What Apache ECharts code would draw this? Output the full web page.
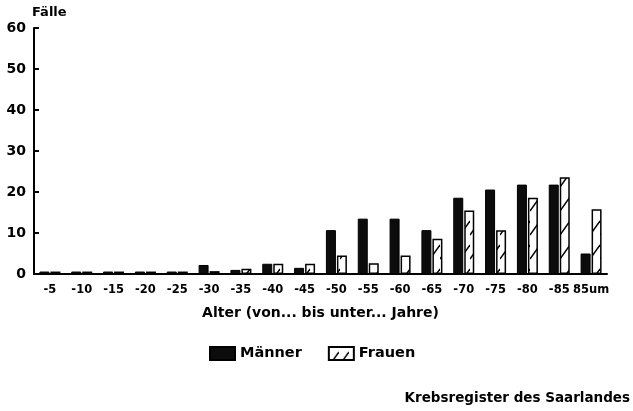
<!DOCTYPE html>
<html>
<head>
<meta charset="utf-8">
<script src="https://cdn.jsdelivr.net/npm/echarts@6/dist/echarts.min.js"></script>
<style>
  html, body { margin: 0; padding: 0; background: #fff; }
  #chart { width: 633px; height: 411px; }
</style>
</head>
<body>
<div id="chart"></div>
<script>
// Altersgruppen (von ... bis unter ... Jahre)
const categories = ['-5', '-10', '-15', '-20', '-25', '-30', '-35', '-40', '-45',
    '-50', '-55', '-60', '-65', '-70', '-75', '-80', '-85', '85um'];
const maenner = [0.6, 0.6, 0.6, 0.6, 0.6, 2.2, 1, 2.5, 1.5,
    10.7, 13.5, 13.5, 10.7, 18.6, 20.6, 21.8, 21.8, 5];
const frauen = [0.6, 0.6, 0.6, 0.6, 0.6, 0.7, 1.3, 2.5, 2.5,
    4.5, 2.6, 4.5, 8.6, 15.5, 10.7, 18.6, 23.6, 15.8];
const yMax = 60;
const yStep = 10;

const FONT = 'DejaVu Sans';

// schraffur fuer Frauen
function hatch() {
    const c = document.createElement('canvas');
    c.width = 10;
    c.height = 24;
    const ctx = c.getContext('2d');
    ctx.fillStyle = '#fff';
    ctx.fillRect(0, 0, 10, 24);
    ctx.strokeStyle = '#000';
    ctx.lineWidth = 1.4;
    ctx.beginPath();
    ctx.moveTo(0, 19);
    ctx.lineTo(10, 5);
    ctx.stroke();
    return c;
}

const chart = echarts.init(document.getElementById('chart'));
chart.setOption({
    animation: false,
    backgroundColor: '#fff',
    textStyle: { fontFamily: FONT, color: '#000', fontWeight: 'bold' },
    grid: { left: 34, right: 26, top: 28, bottom: 137 },
    legend: {
        left: 204,
        top: 341,
        itemWidth: 25,
        itemHeight: 13,
        itemGap: 26,
        textStyle: { fontFamily: FONT, fontSize: 14.5, color: '#000', fontWeight: 'bold' },
        data: [
            { name: 'Männer', icon: 'rect' },
            { name: 'Frauen', icon: 'rect' }
        ]
    },
    xAxis: {
        type: 'category',
        data: categories,
        name: 'Alter (von... bis unter... Jahre)',
        nameLocation: 'middle',
        nameGap: 32,
        nameTextStyle: { fontFamily: FONT, fontSize: 14, fontWeight: 'bold', color: '#000' },
        axisLine: { lineStyle: { color: '#000', width: 2 } },
        axisTick: { show: false },
        axisLabel: {
            interval: 0,
            margin: 10,
            fontSize: 11.5,
            fontWeight: 'bold',
            color: '#000',
            fontFamily: FONT
        }
    },
    yAxis: {
        type: 'value',
        min: 0,
        max: yMax,
        interval: yStep,
        name: 'Fälle',
        nameLocation: 'end',
        nameGap: 9,
        nameTextStyle: { fontFamily: FONT, fontSize: 13, fontWeight: 'bold', color: '#000', align: 'left', padding: [0, 0, 0, -2] },
        axisLine: { show: true, lineStyle: { color: '#000', width: 2 } },
        axisTick: { show: true, inside: true, length: 5, lineStyle: { color: '#000', width: 2 } },
        splitLine: { show: false },
        axisLabel: { fontSize: 14, fontWeight: 'bold', color: '#000', margin: 8, fontFamily: FONT }
    },
    series: [
        {
            name: 'Männer',
            type: 'bar',
            data: maenner,
            barWidth: 10,
            barGap: '10%',
            itemStyle: { color: '#0c0c0c', borderColor: '#000', borderWidth: 1, borderRadius: 0, borderJoin: 'miter' }
        },
        {
            name: 'Frauen',
            type: 'bar',
            data: frauen,
            barWidth: 10,
            itemStyle: {
                color: { image: hatch(), repeat: 'repeat' },
                borderColor: '#000',
                borderWidth: 1.5,
                borderRadius: 0,
                borderJoin: 'miter'
            }
        }
    ],
    graphic: [
        {
            type: 'text',
            right: 3,
            top: 391,
            style: {
                text: 'Krebsregister des Saarlandes',
                fontFamily: FONT,
                fontSize: 13.5,
                fontWeight: 'bold',
                fill: '#000'
            }
        }
    ]
});
</script>
</body>
</html>
